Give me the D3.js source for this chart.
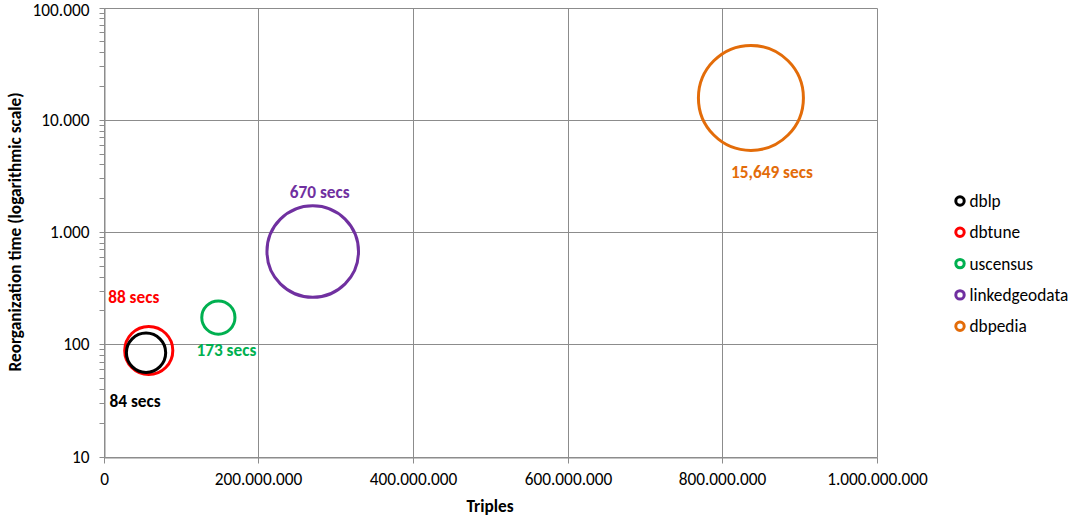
<!DOCTYPE html>
<html>
<head>
<meta charset="utf-8">
<script src="https://cdn.jsdelivr.net/npm/d3@7"></script>
<style>
  html, body { margin: 0; padding: 0; background: #fff; }
  svg { display: block; font-family: Carlito, Calibri, Lato, sans-serif; }
</style>
</head>
<body>
<svg id="chart" width="1073" height="517"></svg>
<script>
// Datasets: triples loaded, reorganization time (secs), bubble size
const datasets   = ["dblp", "dbtune", "uscensus", "linkedgeodata", "dbpedia"];
const triples    = [55000000, 58500000, 148500000, 270500000, 837000000];
const reorgSecs  = [84, 88, 173, 670, 15649];
const bubbleSize = [14, 21, 10, 76, 100];
const colors     = ["#000000", "#ff0000", "#00b050", "#7030a0", "#e36c09"];

const xTicks = [0, 200000000, 400000000, 600000000, 800000000, 1000000000];
const yTicks = [10, 100, 1000, 10000, 100000];

// Label placement (pixel offsets from the bubble centre)
const labelOffset = [[-11, 48], [-15, -54], [8, 32], [7, -60], [21, 74]];

const svg = d3.select("#chart");
const plotL = 103.5, plotR = 877, plotT = 7.5, plotB = 456.5;
const fontSize = 17.3;

const x = d3.scaleLinear().domain([0, 1e9]).range([plotL, plotR]);
const y = d3.scaleLog().domain([10, 1e5]).range([plotB, plotT]);
const r = d3.scaleSqrt().domain([0, d3.max(bubbleSize)]).range([0, 52.5]);

const dotted = d3.formatLocale({ decimal: ",", thousands: ".", grouping: [3], currency: ["", ""] }).format(",d");
const commas = d3.format(",d");

const gridColor = "#8c8c8c";
const snap = v => Math.round(v) + 0.5;

// Grid
const grid = svg.append("g").attr("stroke", gridColor).attr("stroke-width", 1);
grid.selectAll("line.v").data(xTicks).join("line").attr("class", "v")
  .attr("x1", d => snap(x(d))).attr("x2", d => snap(x(d)))
  .attr("y1", snap(plotT)).attr("y2", snap(plotB));
grid.selectAll("line.h").data(yTicks).join("line").attr("class", "h")
  .attr("x1", snap(plotL)).attr("x2", snap(plotR))
  .attr("y1", d => snap(y(d))).attr("y2", d => snap(y(d)));

// Y axis (log, with minor ticks)
const yAxis = d3.axisLeft(y)
  .tickValues(y.ticks())
  .tickSize(5)
  .tickSizeOuter(0)
  .tickFormat(d => yTicks.includes(d) ? dotted(d) : "");
const gy = svg.append("g").attr("transform", `translate(${snap(plotL)},0)`).call(yAxis);
gy.selectAll(".tick").attr("transform", d => `translate(0,${snap(y(d))})`);
gy.selectAll("line").attr("stroke", gridColor);
gy.select(".domain").attr("stroke", gridColor);
gy.selectAll("text").attr("font-size", fontSize).attr("fill", "#000").attr("x", -15)
  .attr("y", d => d === 100000 ? 2 : 0)
  .style("font-family", "Carlito, Calibri, Lato, sans-serif");

// X axis
const xAxis = d3.axisBottom(x).tickValues(xTicks).tickSize(6).tickSizeOuter(0).tickFormat(dotted);
const gx = svg.append("g").attr("transform", `translate(0,${snap(plotB)})`).call(xAxis);
gx.selectAll(".tick").attr("transform", d => `translate(${snap(x(d))},0)`);
gx.selectAll("line").attr("stroke", gridColor);
gx.select(".domain").attr("stroke", gridColor);
gx.selectAll("text").attr("font-size", fontSize).attr("fill", "#000").attr("y", 15)
  .style("font-family", "Carlito, Calibri, Lato, sans-serif");

// Axis titles
svg.append("text").attr("x", 490).attr("y", 512).attr("text-anchor", "middle")
  .attr("font-size", fontSize).attr("font-weight", "bold").text("Triples");
svg.append("text").attr("transform", "translate(20.5,232) rotate(-90)").attr("text-anchor", "middle")
  .attr("font-size", fontSize).attr("font-weight", "bold").text("Reorganization time (logarithmic scale)");

// Bubbles (largest first so small ones stay on top)
const rows = datasets.map((name, i) => ({ name, i, t: triples[i], s: reorgSecs[i], z: bubbleSize[i], c: colors[i] }));
const order = [4, 3, 1, 0, 2];
svg.append("g").selectAll("circle").data(order.map(i => rows[i])).join("circle")
  .attr("cx", d => x(d.t)).attr("cy", d => y(d.s)).attr("r", d => r(d.z))
  .attr("fill", "none").attr("stroke", d => d.c).attr("stroke-width", 3);

// Value labels
svg.append("g").selectAll("text").data(rows).join("text")
  .attr("x", d => x(d.t) + labelOffset[d.i][0])
  .attr("y", d => y(d.s) + labelOffset[d.i][1])
  .attr("dy", "0.35em").attr("text-anchor", "middle")
  .attr("font-size", fontSize).attr("font-weight", "bold").attr("fill", d => d.c)
  .text(d => commas(d.s) + " secs");

// Legend
const lg = svg.append("g").attr("transform", "translate(960,201)");
const item = lg.selectAll("g").data(rows).join("g").attr("transform", (d, i) => `translate(0,${i * 31.3})`);
item.append("circle").attr("r", 4.2).attr("fill", "none").attr("stroke", d => d.c).attr("stroke-width", 3);
item.append("text").attr("x", 9.5).attr("dy", "0.35em").attr("font-size", fontSize).attr("fill", "#000").text(d => d.name);
</script>
</body>
</html>
